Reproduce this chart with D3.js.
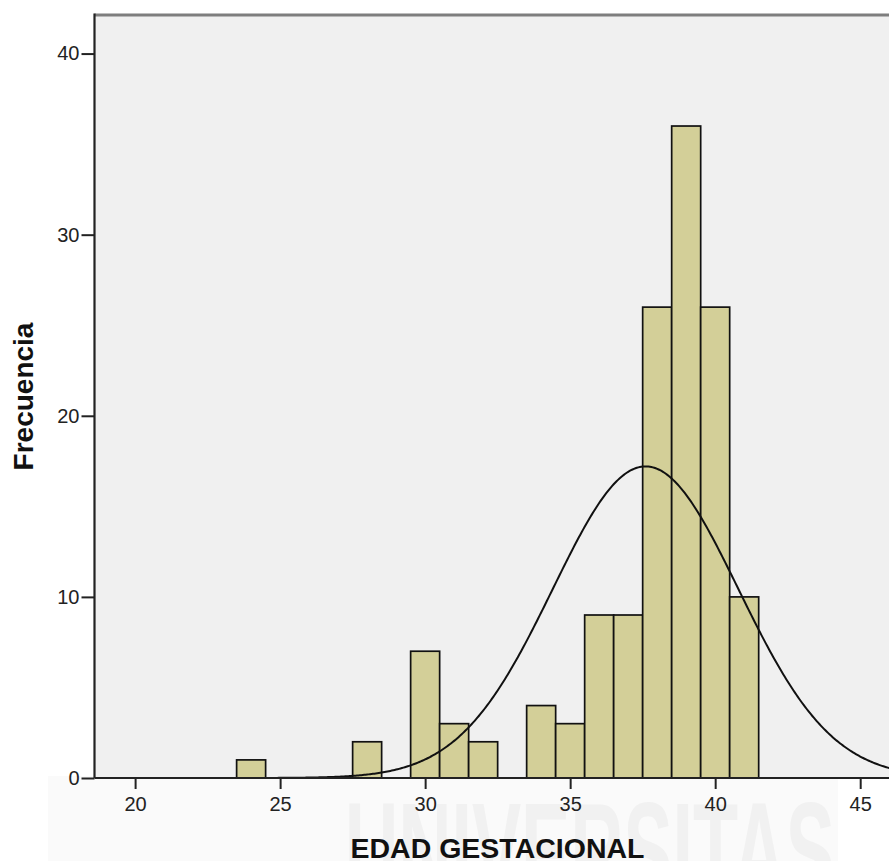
<!DOCTYPE html>
<html>
<head>
<meta charset="utf-8">
<script src="https://cdn.jsdelivr.net/npm/d3@7/dist/d3.min.js"></script>
<style>
  html, body { margin: 0; padding: 0; background: #fff; }
  svg { display: block; font-family: Arial, "Liberation Sans", sans-serif; }
</style>
</head>
<body>
<svg id="chart" width="889" height="861"></svg>
<script>
// ---- data ----
const binCenters = [24, 28, 30, 31, 32, 34, 35, 36, 37, 38, 39, 40, 41];
const binCounts  = [ 1,  2,  7,  3,  2,  4,  3,  9,  9, 26, 36, 26, 10];
const binWidth   = 1;
const xTicks     = [20, 25, 30, 35, 40, 45];
const yTicks     = [0, 10, 20, 30, 40];
// fitted normal curve parameters
const fitMean = 37.6;
const fitSd   = 3.2;
const fitN    = 138;

(function () {
const svg = d3.select('#chart');
const W = 889, H = 861;
const pLeft = 94.5, pRight = 895, pTop = 15, pBottom = 778;

const x = d3.scaleLinear().domain([18.6, 46.2]).range([pLeft, pRight]);
const y = d3.scaleLinear().domain([0, 42.13]).range([pBottom, pTop]);

// faint watermark behind the axis area
svg.append('rect')
  .attr('x', 48).attr('y', 776).attr('width', 790).attr('height', 90)
  .attr('fill', '#fafafa');
svg.append('text')
  .attr('x', 345).attr('y', 900)
  .attr('textLength', 490).attr('lengthAdjust', 'spacingAndGlyphs')
  .attr('font-size', 140).attr('font-weight', 'bold')
  .attr('fill', '#f1f1f1')
  .text('UNIVERSITAS');

// plot background
svg.append('rect')
  .attr('x', pLeft).attr('y', pTop)
  .attr('width', pRight - pLeft).attr('height', pBottom - pTop)
  .attr('fill', '#f0f0f0');

svg.append('clipPath').attr('id', 'plot-clip')
  .append('rect')
  .attr('x', pLeft).attr('y', pTop)
  .attr('width', pRight - pLeft).attr('height', pBottom - pTop);

const plotG = svg.append('g').attr('clip-path', 'url(#plot-clip)');

// bars
plotG.selectAll('rect.bar')
  .data(binCenters.map((c, i) => ({ c, n: binCounts[i] })))
  .join('rect')
  .attr('class', 'bar')
  .attr('x', d => x(d.c - binWidth / 2))
  .attr('width', d => x(d.c + binWidth / 2) - x(d.c - binWidth / 2))
  .attr('y', d => y(d.n))
  .attr('height', d => y(0) - y(d.n))
  .attr('fill', '#d3cf98')
  .attr('stroke', '#111')
  .attr('stroke-width', 1.7);

// normal curve
const curveXs = d3.range(18.6, 46.25, 0.05);
const dens = v => fitN * binWidth / (fitSd * Math.sqrt(2 * Math.PI)) *
  Math.exp(-((v - fitMean) ** 2) / (2 * fitSd * fitSd));
plotG.append('path')
  .datum(curveXs)
  .attr('fill', 'none')
  .attr('stroke', '#111')
  .attr('stroke-width', 2)
  .attr('d', d3.line().x(v => x(v)).y(v => y(dens(v))));

// frame: top border (grey)
svg.append('line')
  .attr('x1', pLeft).attr('x2', W).attr('y1', pTop).attr('y2', pTop)
  .attr('stroke', '#7e7e7e').attr('stroke-width', 3);

// axes
svg.append('g')
  .attr('transform', `translate(${pLeft},0)`)
  .call(d3.axisLeft(y).tickValues(yTicks).tickSize(13).tickPadding(2))
  .call(g => {
    g.select('.domain').remove();
    g.selectAll('line').attr('stroke', '#222').attr('stroke-width', 2);
    g.selectAll('text').attr('fill', '#222').attr('font-size', 20)
      .attr('font-family', 'Arial, "Liberation Sans", sans-serif');
  });

svg.append('g')
  .attr('transform', `translate(0,${pBottom})`)
  .call(d3.axisBottom(x).tickValues(xTicks).tickSize(11).tickPadding(7.5))
  .call(g => {
    g.select('.domain').remove();
    g.selectAll('line').attr('stroke', '#222').attr('stroke-width', 2);
    g.selectAll('text').attr('fill', '#222').attr('font-size', 20)
      .attr('font-family', 'Arial, "Liberation Sans", sans-serif');
  });

svg.append('line')
  .attr('x1', pLeft).attr('x2', pLeft).attr('y1', pTop - 1.5).attr('y2', pBottom)
  .attr('stroke', '#222').attr('stroke-width', 2.2);
svg.append('line')
  .attr('x1', pLeft).attr('x2', W).attr('y1', pBottom).attr('y2', pBottom)
  .attr('stroke', '#222').attr('stroke-width', 2.2);

// axis titles
svg.append('text')
  .attr('x', 497.5).attr('y', 858)
  .attr('text-anchor', 'middle')
  .attr('font-size', 28.5).attr('font-weight', 'bold').attr('fill', '#111')
  .text('EDAD GESTACIONAL');

svg.append('text')
  .attr('transform', `translate(33,${396.5}) rotate(-90)`)
  .attr('text-anchor', 'middle')
  .attr('font-size', 28).attr('font-weight', 'bold').attr('fill', '#111')
  .text('Frecuencia');
})();
</script>
</body>
</html>
